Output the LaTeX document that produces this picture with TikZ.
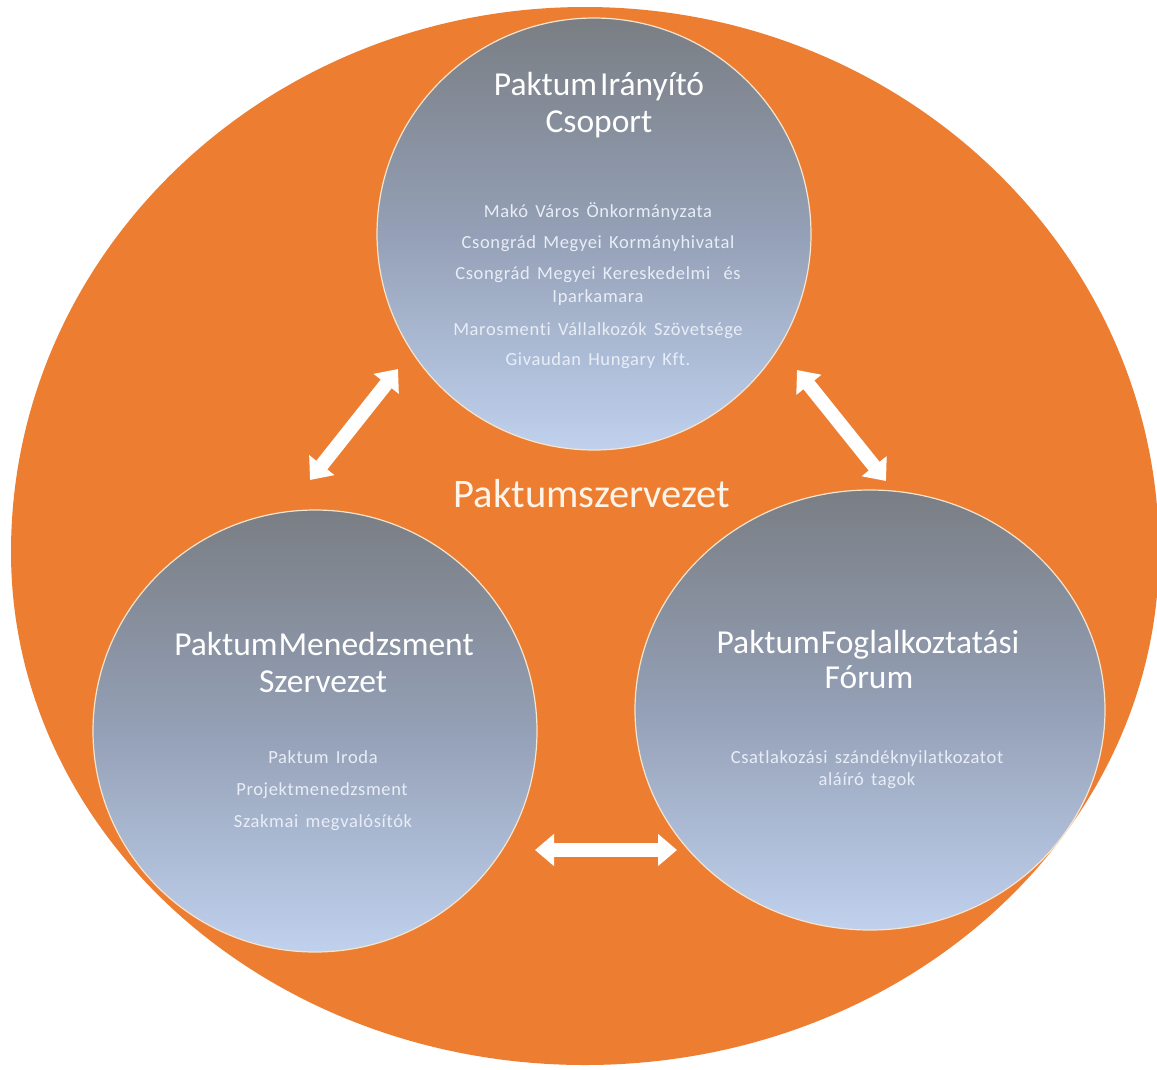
\documentclass[tikz,border=0pt]{standalone}
\usepackage{fontspec}
\setmainfont{Carlito}
\newfontfamily\smallf[LetterSpace=3.5,WordSpace=1.5,Ligatures=NoCommon]{Carlito}
\usetikzlibrary{arrows.meta,shapes.geometric}
\definecolor{porange}{RGB}{237,125,49}
\definecolor{ctop}{RGB}{122,126,132}
\definecolor{cmid}{RGB}{148,160,182}
\definecolor{cbot}{RGB}{192,209,238}
\definecolor{cedge}{RGB}{246,228,205}
\definecolor{smalltxt}{RGB}{232,238,247}
\definecolor{bigtxt}{RGB}{253,244,234}
\begin{document}
\begin{tikzpicture}[x=1pt,y=-1pt,
  orgshape/.style={fill=porange},
  disc/.style={ellipse, draw=cedge, line width=1.2pt, top color=ctop, bottom color=cbot, middle color=cmid, inner sep=0},
  ttl/.style={anchor=base, inner sep=0, text=white, font=\fontsize{33.5}{38}\selectfont},
  itm/.style={anchor=base, inner sep=0, text=smalltxt, font=\smallf\fontsize{18.5}{20}\selectfont},
  dblarrow/.style={draw=white, line width=14pt, {Triangle[width=31pt,length=19pt]}-{Triangle[width=31pt,length=19pt]}}
]
\useasboundingbox (0,0) rectangle (1157,1069);
\clip (0,0) rectangle (1157,1069);
\fill[white] (0,0) rectangle (1157,1069);

% orange background shape: upper and lower half-ellipses
\fill[orgshape] (11,552) arc[start angle=180, end angle=0, x radius=574pt, y radius=545pt]
  arc[start angle=0, end angle=-180, x radius=574pt, y radius=513pt] -- cycle;

\node[disc, minimum width=434pt, minimum height=432pt] (top) at (594,234) {};
\node[disc, minimum width=444pt, minimum height=442pt] (left) at (315,731) {};
\node[disc, minimum width=470pt, minimum height=440pt] (right) at (870,710) {};

% top circle texts
\node[ttl] (t1) at (599,95) {Paktum\hspace{3pt}Irányító};
\node[ttl] (t2) at (599,132) {Csoport};
\node[itm] (t3) at (598,217) {Makó Város Önkormányzata};
\node[itm] (t4) at (598,248) {Csongrád Megyei Kormányhivatal};
\node[itm] (t5) at (598,279) {Csongrád Megyei Kereskedelmi\hspace{6pt} és};
\node[itm] (t6) at (598,302) {Iparkamara};
\node[itm] (t7) at (598,335) {Marosmenti Vállalkozók Szövetsége};
\node[itm] (t8) at (598,365) {Givaudan Hungary Kft.};

% left circle texts
\node[ttl] (l1) at (324,655) {Paktum\hspace{1pt}Menedzsment};
\node[ttl] (l2) at (323,692) {Szervezet};
\node[itm] (l3) at (323,763) {Paktum Iroda};
\node[itm] (l4) at (322,795) {Projektmenedzsment};
\node[itm] (l5) at (323,827) {Szakmai megvalósítók};

% right circle texts
\node[ttl] (r1) at (868,653) {Paktum\hspace{1pt}Foglalkoztatási};
\node[ttl] (r2) at (869,688) {Fórum};
\node[itm] (r3) at (867,763) {Csatlakozási szándéknyilatkozatot};
\node[itm] (r4) at (867,785) {aláíró tagok};

% centre label
\node[anchor=base, inner sep=0, text=bigtxt, font=\fontsize{40.5}{44}\selectfont] (mid) at (592,507) {Paktumszervezet};

% arrows
\coordinate (a1s) at (310,480);
\coordinate (a1e) at (398,369);
\coordinate (a2s) at (797,370);
\coordinate (a2e) at (886,481);
\coordinate (a3s) at (535,850);
\coordinate (a3e) at (677,850);
\draw[dblarrow] (a1s) -- (a1e);
\draw[dblarrow] (a2s) -- (a2e);
\draw[dblarrow] (a3s) -- (a3e);
\end{tikzpicture}
\end{document}
